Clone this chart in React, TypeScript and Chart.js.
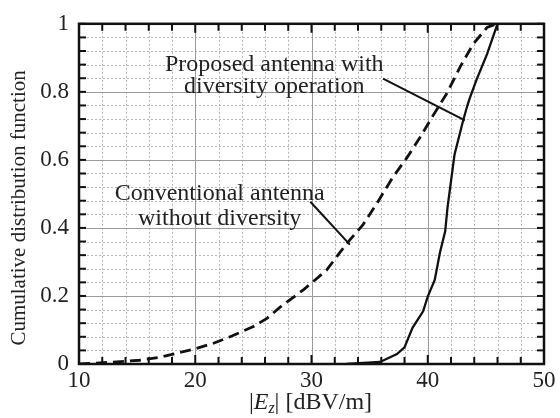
import React, { useEffect, useRef } from "react";
import { Chart, registerables } from "chart.js";

Chart.register(...registerables);

// Conventional antenna without diversity (dashed)
const convX = [10, 11.8, 15.2, 17.0, 18.7, 19.8, 21.5, 23.2, 25.0, 26.2, 27.3, 28.2, 29.3, 30.1, 31.3, 32.45, 33.3, 34.4, 35.6, 37.0, 38.2, 39.3, 40.45, 41.65, 42.8, 43.9, 45.1, 45.9];
const convY = [0.0, 0.003, 0.011, 0.02, 0.034, 0.043, 0.06, 0.083, 0.11, 0.135, 0.167, 0.19, 0.218, 0.241, 0.276, 0.328, 0.365, 0.408, 0.471, 0.549, 0.606, 0.664, 0.73, 0.796, 0.874, 0.94, 0.989, 1.0];

// Proposed antenna with diversity operation (solid)
const propX = [33, 35.9, 37.35, 38.0, 38.7, 39.6, 40.0, 40.6, 41.05, 41.5, 41.7, 42.3, 43.0, 43.4, 43.6, 44.2, 45.1, 46.0, 50];
const propY = [0, 0.006, 0.029, 0.049, 0.107, 0.155, 0.198, 0.247, 0.328, 0.39, 0.46, 0.615, 0.71, 0.759, 0.78, 0.836, 0.911, 1.0, 1.0];

const xMajorTicks = [10, 20, 30, 40, 50];
const yMajorTicks = [0, 0.2, 0.4, 0.6, 0.8, 1];
const xMinorStep = 2;
const yMinorStep = 0.04;

const yTitle = "Cumulative distribution function";
const propLabel = ["Proposed antenna with", "diversity operation"];
const convLabel = ["Conventional antenna", "without diversity"];
// annotation anchors in data coordinates
const propLabelPos = { x: 26.8, y: [0.88, 0.814] };
const propLeader = { x1: 36.15, y1: 0.839, x2: 43.2, y2: 0.716 };
const convLabelPos = { x: 22.1, y: [0.5, 0.428] };
const convLeader = { x1: 29.9, y1: 0.477, x2: 33.3, y2: 0.351 };

const SERIF = "'Liberation Serif', 'Times New Roman', serif";

const decorPlugin = {
  id: "decor",
  beforeDatasetsDraw(chart: any) {
    const { ctx, chartArea: a, scales } = chart;
    const xs = scales.x, ys = scales.y;
    ctx.save();
    // minor grid
    ctx.strokeStyle = "#b5b5b5";
    ctx.lineWidth = 1;
    ctx.setLineDash([2, 2]);
    for (let v = 10; v <= 50.001; v += xMinorStep) {
      const px = Math.round(xs.getPixelForValue(v)) + 0.5;
      ctx.beginPath(); ctx.moveTo(px, a.top); ctx.lineTo(px, a.bottom); ctx.stroke();
    }
    for (let v = 0; v <= 1.0001; v += yMinorStep) {
      const py = Math.round(ys.getPixelForValue(v)) + 0.5;
      ctx.beginPath(); ctx.moveTo(a.left, py); ctx.lineTo(a.right, py); ctx.stroke();
    }
    // major grid
    ctx.setLineDash([]);
    ctx.strokeStyle = "#9a9a9a";
    for (const v of xMajorTicks) {
      const px = Math.round(xs.getPixelForValue(v)) + 0.5;
      ctx.beginPath(); ctx.moveTo(px, a.top); ctx.lineTo(px, a.bottom); ctx.stroke();
    }
    for (const v of yMajorTicks) {
      const py = Math.round(ys.getPixelForValue(v)) + 0.5;
      ctx.beginPath(); ctx.moveTo(a.left, py); ctx.lineTo(a.right, py); ctx.stroke();
    }
    ctx.restore();
  },
  afterDatasetsDraw(chart: any) {
    const { ctx, chartArea: a, scales } = chart;
    const xs = scales.x, ys = scales.y;
    ctx.save();
    // inward ticks
    ctx.strokeStyle = "#111";
    ctx.lineWidth = 2;
    for (let v = 10; v <= 50.001; v += xMinorStep) {
      const px = xs.getPixelForValue(v);
      const len = Math.abs(v % 10) < 0.01 ? 9 : 7;
      ctx.beginPath(); ctx.moveTo(px, a.top); ctx.lineTo(px, a.top + len); ctx.stroke();
      ctx.beginPath(); ctx.moveTo(px, a.bottom); ctx.lineTo(px, a.bottom - len); ctx.stroke();
    }
    for (let v = 0; v <= 1.0001; v += yMinorStep) {
      const py = ys.getPixelForValue(v);
      ctx.beginPath(); ctx.moveTo(a.left, py); ctx.lineTo(a.left + 7, py); ctx.stroke();
      ctx.beginPath(); ctx.moveTo(a.right, py); ctx.lineTo(a.right - 7, py); ctx.stroke();
    }
    // border
    ctx.lineWidth = 2.5;
    ctx.strokeRect(a.left, a.top, a.right - a.left, a.bottom - a.top);

    // annotations
    ctx.fillStyle = "#222";
    ctx.font = `24px ${SERIF}`;
    ctx.textAlign = "center";
    ctx.textBaseline = "middle";
    propLabel.forEach((t, i) => ctx.fillText(t, xs.getPixelForValue(propLabelPos.x), ys.getPixelForValue(propLabelPos.y[i])));
    convLabel.forEach((t, i) => ctx.fillText(t, xs.getPixelForValue(convLabelPos.x), ys.getPixelForValue(convLabelPos.y[i])));
    ctx.lineWidth = 2;
    for (const l of [propLeader, convLeader]) {
      ctx.beginPath();
      ctx.moveTo(xs.getPixelForValue(l.x1), ys.getPixelForValue(l.y1));
      ctx.lineTo(xs.getPixelForValue(l.x2), ys.getPixelForValue(l.y2));
      ctx.stroke();
    }

    // y title
    ctx.save();
    ctx.translate(19, (a.top + a.bottom) / 2 + 14);
    ctx.rotate(-Math.PI / 2);
    ctx.font = `21px ${SERIF}`;
    ctx.fillText(yTitle, 0, 0);
    ctx.restore();

    // x title: |E_z| [dBV/m]
    const cx = (a.left + a.right) / 2 - 1;
    const cy = 403;
    const parts = [
      { t: "|", f: `24px ${SERIF}`, dy: 0 },
      { t: "E", f: `italic 24px ${SERIF}`, dy: 0 },
      { t: "z", f: `italic 16px ${SERIF}`, dy: 6 },
      { t: "| [dBV/m]", f: `24px ${SERIF}`, dy: 0 },
    ];
    let total = 0;
    for (const p of parts) { ctx.font = p.f; total += ctx.measureText(p.t).width; }
    let x = cx - total / 2;
    ctx.textAlign = "left";
    ctx.textBaseline = "middle";
    for (const p of parts) {
      ctx.font = p.f;
      ctx.fillText(p.t, x, cy + p.dy);
      x += ctx.measureText(p.t).width;
    }
    ctx.restore();
  },
};

export default function App() {
  const ref = useRef<HTMLCanvasElement>(null);
  useEffect(() => {
    document.body.style.margin = "0";
    const chart = new Chart(ref.current!, {
      type: "line",
      data: {
        datasets: [
          {
            label: "Conventional antenna without diversity",
            data: convX.map((x, i) => ({ x, y: convY[i] })),
            borderColor: "#111",
            borderWidth: 2.8,
            borderDash: [11, 6],
            pointRadius: 0,
            tension: 0,
            fill: false,
          },
          {
            label: "Proposed antenna with diversity operation",
            data: propX.map((x, i) => ({ x, y: propY[i] })),
            borderColor: "#111",
            borderWidth: 2.3,
            pointRadius: 0,
            tension: 0,
            fill: false,
          },
        ],
      },
      options: {
        animation: false,
        responsive: false,
        maintainAspectRatio: false,
        layout: { padding: { top: 16, right: 16, left: 0, bottom: 0 } },
        plugins: { legend: { display: false }, tooltip: { enabled: false } },
        scales: {
          x: {
            type: "linear",
            min: 10,
            max: 50,
            afterFit: (s: any) => { s.height = 54; },
            afterBuildTicks: (s: any) => { s.ticks = xMajorTicks.map((v) => ({ value: v })); },
            grid: { display: false, drawTicks: false },
            border: { display: false },
            ticks: {
              padding: 3,
              color: "#222",
              font: { family: SERIF, size: 23 },
              maxRotation: 0,
              callback: (v: any) => String(v),
            },
          },
          y: {
            type: "linear",
            min: 0,
            max: 1,
            afterFit: (s: any) => { s.width = 79; },
            afterBuildTicks: (s: any) => { s.ticks = yMajorTicks.map((v) => ({ value: v })); },
            grid: { display: false, drawTicks: false },
            border: { display: false },
            ticks: {
              padding: 10,
              color: "#222",
              font: { family: SERIF, size: 23 },
              callback: (v: any) => (v === 0 || v === 1 ? String(v) : Number(v).toFixed(1)),
            },
          },
        },
      },
      plugins: [decorPlugin],
    });
    return () => chart.destroy();
  }, []);
  return (
    <div style={{ width: 560, height: 418, background: "#fff" }}>
      <canvas ref={ref} width={560} height={418} style={{ width: 560, height: 418 }} />
    </div>
  );
}
